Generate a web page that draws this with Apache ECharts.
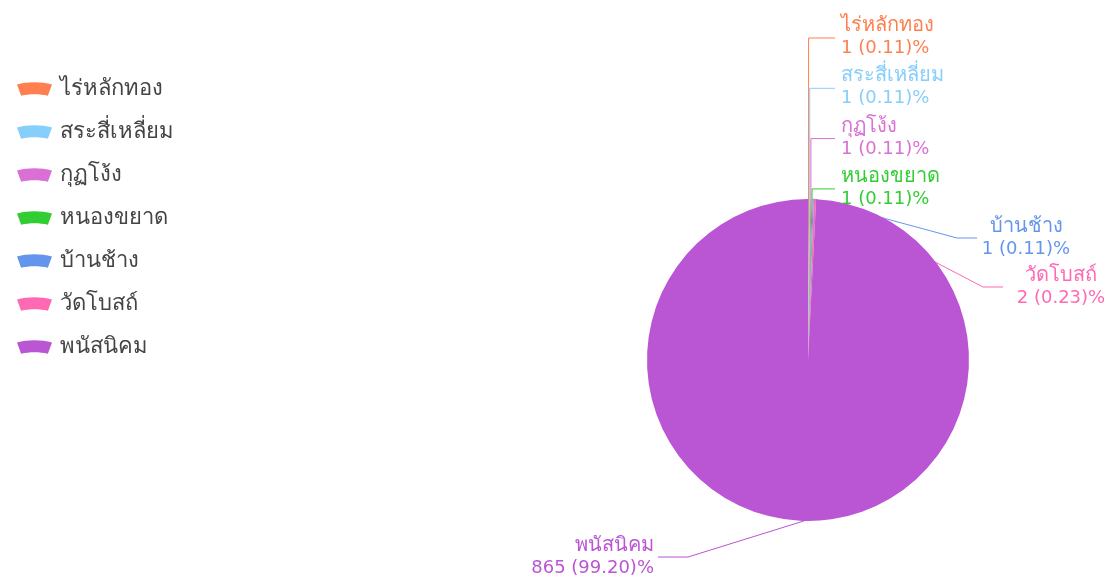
<!DOCTYPE html>
<html><head><meta charset="utf-8">
<script src="https://cdn.jsdelivr.net/npm/echarts@6/dist/echarts.min.js"></script>
<style>html,body{margin:0;padding:0;background:#fff}#c{width:1114px;height:577px}</style>
</head><body><div id="c"></div>
<script>
const categories = ['ไร่หลักทอง','สระสี่เหลี่ยม','กุฏโง้ง','หนองขยาด','บ้านช้าง','วัดโบสถ์','พนัสนิคม'];
const values = [1,1,1,1,1,2,865];
const colors = ['#ff7f50','#87cefa','#da70d6','#32cd32','#6495ed','#ff69b4','#ba55d3'];

const total = values.reduce((a,b)=>a+b,0);
const cx = 808, cy = 360, R = 161;
const chart = echarts.init(document.getElementById('c'));
chart.setOption({
  backgroundColor:'#fff',
  color: colors,
  legend:{
    orient:'vertical', left:12, top:73, itemGap:21, itemWidth:35, itemHeight:19,
    icon:'path://M0,3 C10,0 24,0 34,3 L30,14 C22,12 12,12 4,14 Z',
    textStyle:{fontSize:22, color:'#444', fontFamily:'sans-serif', padding:[0,0,0,3]},
    data: categories
  },
  series:[{
    type:'pie', center:[cx,cy], radius:R, startAngle:90,
    avoidLabelOverlap:false,
    data: categories.map((n,i)=>({name:n, value:values[i],
      itemStyle:{color:colors[i]},
      label:{color:colors[i]},
      labelLine:{lineStyle:{color:colors[i], width:1}}})),
    label:{
      formatter: p => '{n|' + p.name + '}\n{v|' + p.value + ' (' + (p.value/total*100).toFixed(2) + ')%}',
      rich:{
        n:{fontSize:20, fontFamily:'sans-serif', lineHeight:23},
        v:{fontSize:18, fontFamily:'DejaVu Sans', lineHeight:23}
      }
    },
    labelLine:{show:true, length:20, length2:30},
    emphasis:{scale:false},
    labelLayout: function(p){
      const i = p.dataIndex;
      const e = (p.labelLinePoints && p.labelLinePoints[0]) || [cx, cy-R];
      const top = cy - R;
      if (i < 4) {
        const ly = top - 161 + i*50.3;
        return {x: cx+33, y: ly-1, align:'left', verticalAlign:'middle',
          labelLinePoints:[[e[0],e[1]],[e[0],ly],[cx+27,ly]]};
      }
      if (i === 4) {
        const ly = top + 39;
        return {x: cx+218, y: ly, align:'center', verticalAlign:'middle',
          labelLinePoints:[[e[0],e[1]],[cx+149,ly],[cx+169,ly]]};
      }
      if (i === 5) {
        const ly = top + 88;
        return {x: cx+253, y: ly, align:'center', verticalAlign:'middle',
          labelLinePoints:[[e[0],e[1]],[cx+175,ly],[cx+195,ly]]};
      }
      const ly = cy + 197;
      return {x: cx-154, y: ly, align:'right', verticalAlign:'middle',
        labelLinePoints:[[e[0],e[1]],[cx-120,ly],[cx-150,ly]]};
    }
  }]
});
</script></body></html>
